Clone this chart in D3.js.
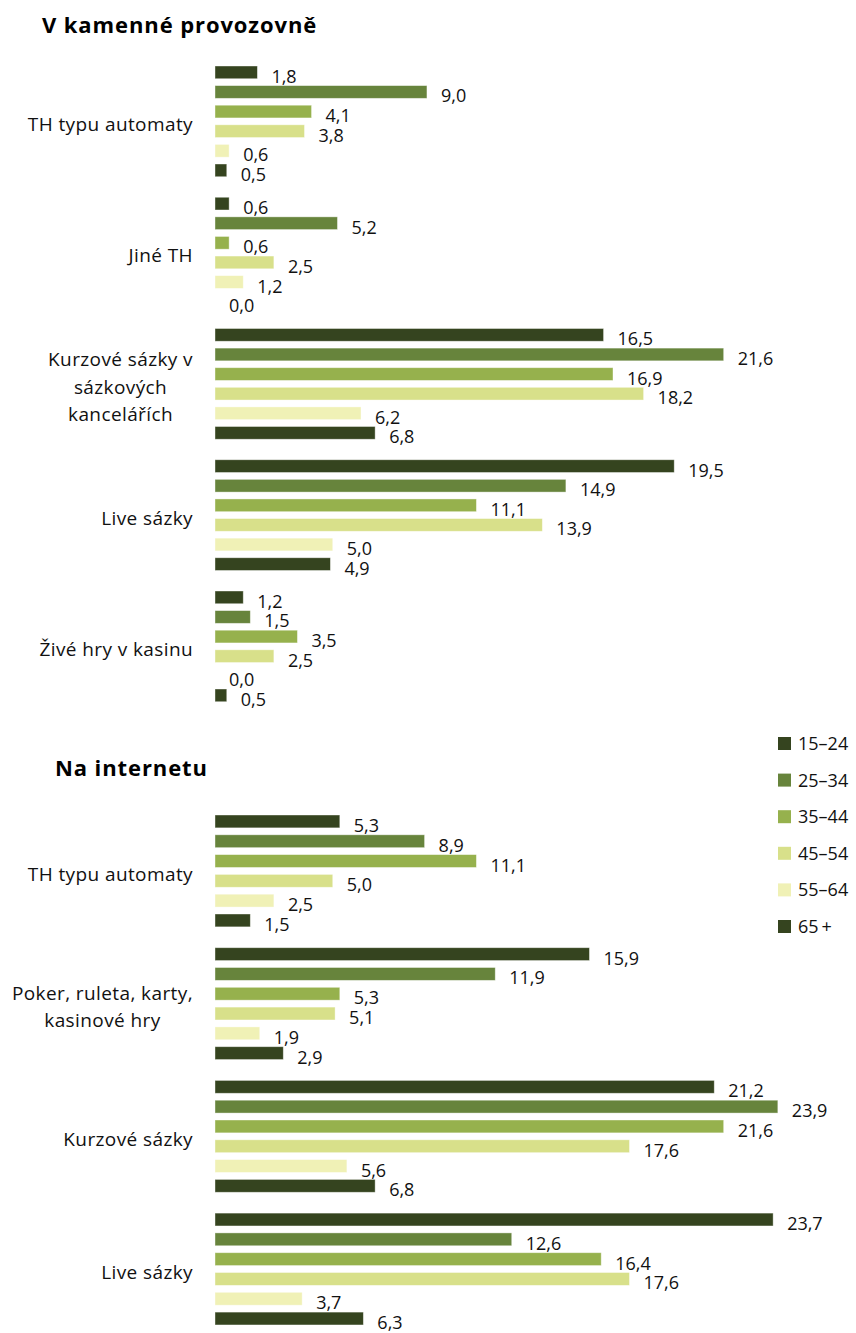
<!DOCTYPE html>
<html><head><meta charset="utf-8">
<script src="https://cdn.jsdelivr.net/npm/d3@7"></script>
<style>body{margin:0;background:#fff}svg{display:block}</style>
</head><body>
<svg id="c" width="856" height="1333"></svg>
<script>
const series = ["15–24","25–34","35–44","45–54","55–64","65\u2009+"];
const colors = ["#35441F","#67843C","#96B14D","#D8E08A","#F0F1B6","#35441F"];

// Section 1: V kamenné provozovně
const title1 = "V kamenné provozovně";
const cats1 = [["TH typu automaty"],["Jiné TH"],["Kurzové sázky v","sázkových","kancelářích"],["Live sázky"],["Živé hry v kasinu"]];
const s1_15_24 = [1.8, 0.6, 16.5, 19.5, 1.2];
const s1_25_34 = [9.0, 5.2, 21.6, 14.9, 1.5];
const s1_35_44 = [4.1, 0.6, 16.9, 11.1, 3.5];
const s1_45_54 = [3.8, 2.5, 18.2, 13.9, 2.5];
const s1_55_64 = [0.6, 1.2, 6.2, 5.0, 0.0];
const s1_65p   = [0.5, 0.0, 6.8, 4.9, 0.5];

// Section 2: Na internetu
const title2 = "Na internetu";
const cats2 = [["TH typu automaty"],["Poker, ruleta, karty,","kasinové hry"],["Kurzové sázky"],["Live sázky"]];
const s2_15_24 = [5.3, 15.9, 21.2, 23.7];
const s2_25_34 = [8.9, 11.9, 23.9, 12.6];
const s2_35_44 = [11.1, 5.3, 21.6, 16.4];
const s2_45_54 = [5.0, 5.1, 17.6, 17.6];
const s2_55_64 = [2.5, 1.9, 5.6, 3.7];
const s2_65p   = [1.5, 2.9, 6.8, 6.3];

const svg = d3.select("#c");
const FONT = "'Open Sans', 'Noto Sans', sans-serif";
const x = d3.scaleLinear().domain([0, 25]).range([215, 215 + 25*23.55]);
const fmt = v => d3.format(".1f")(v).replace(".", ",");

function section(title, titleX, titleY, cats, vals, firstTop, pitch, gstep){
  svg.append("text").attr("x", titleX).attr("y", titleY)
    .attr("font-family", FONT).attr("font-weight", "bold").attr("font-size", 22)
    .attr("letter-spacing", 0.9).attr("fill", "#000").text(title);
  const idx = d3.range(cats.length);
  const pin = 1 - 6*pitch/gstep;
  const y0 = firstTop - 0.175*pitch - (pin/2)*gstep;
  const yOuter = d3.scaleBand().domain(idx).range([y0, y0 + cats.length*gstep])
    .paddingInner(pin).paddingOuter(pin/2);
  const yInner = d3.scaleBand().domain(d3.range(6)).range([0, yOuter.bandwidth()])
    .paddingInner(0.35).paddingOuter(0.175);
  const g = svg.append("g");
  idx.forEach(ci => {
    const gy = yOuter(ci);
    vals.forEach((arr, si) => {
      const v = arr[ci];
      const by = gy + yInner(si);
      const h = yInner.bandwidth();
      g.append("rect").attr("x", x(0)).attr("y", by)
        .attr("width", Math.max(0, x(v) - x(0))).attr("height", h)
        .attr("fill", colors[si]).attr("stroke", "rgba(255,255,255,0.5)").attr("stroke-width", 0.8);
      g.append("text").attr("x", x(v) + 14).attr("y", by + h/2 + 10.5)
        .attr("font-family", FONT).attr("font-size", 18).attr("fill", "#111")
        .text(fmt(v));
    });
    const lines = cats[ci];
    const lh = 27.5;
    const cy = gy + yOuter.bandwidth()/2 + 3;
    const ts = lines.map((ln, li) => g.append("text")
      .attr("y", cy + (li - (lines.length-1)/2)*lh + 6.8)
      .attr("font-family", FONT).attr("font-size", 19).attr("letter-spacing", 0.4)
      .attr("fill", "#111").attr("text-anchor", "middle").text(ln));
    const maxW = d3.max(ts, t => t.node().getComputedTextLength());
    ts.forEach(t => t.attr("x", 193 - maxW/2));
  });
}

section(title1, 42, 33, cats1, [s1_15_24, s1_25_34, s1_35_44, s1_45_54, s1_55_64, s1_65p], 66, 19.6, 131.25);
section(title2, 55, 776, cats2, [s2_15_24, s2_25_34, s2_35_44, s2_45_54, s2_55_64, s2_65p], 815, 19.8, 132.7);

// legend
const ly = d3.scalePoint().domain(series).range([743, 926]);
const lg = svg.append("g");
series.forEach((s, i) => {
  lg.append("rect").attr("x", 778).attr("y", ly(s) - 6).attr("width", 13).attr("height", 13)
    .attr("fill", colors[i]);
  lg.append("text").attr("x", 798).attr("y", ly(s) + 7)
    .attr("font-family", FONT).attr("font-size", 18).attr("fill", "#111").text(s);
});
</script>
</body></html>
